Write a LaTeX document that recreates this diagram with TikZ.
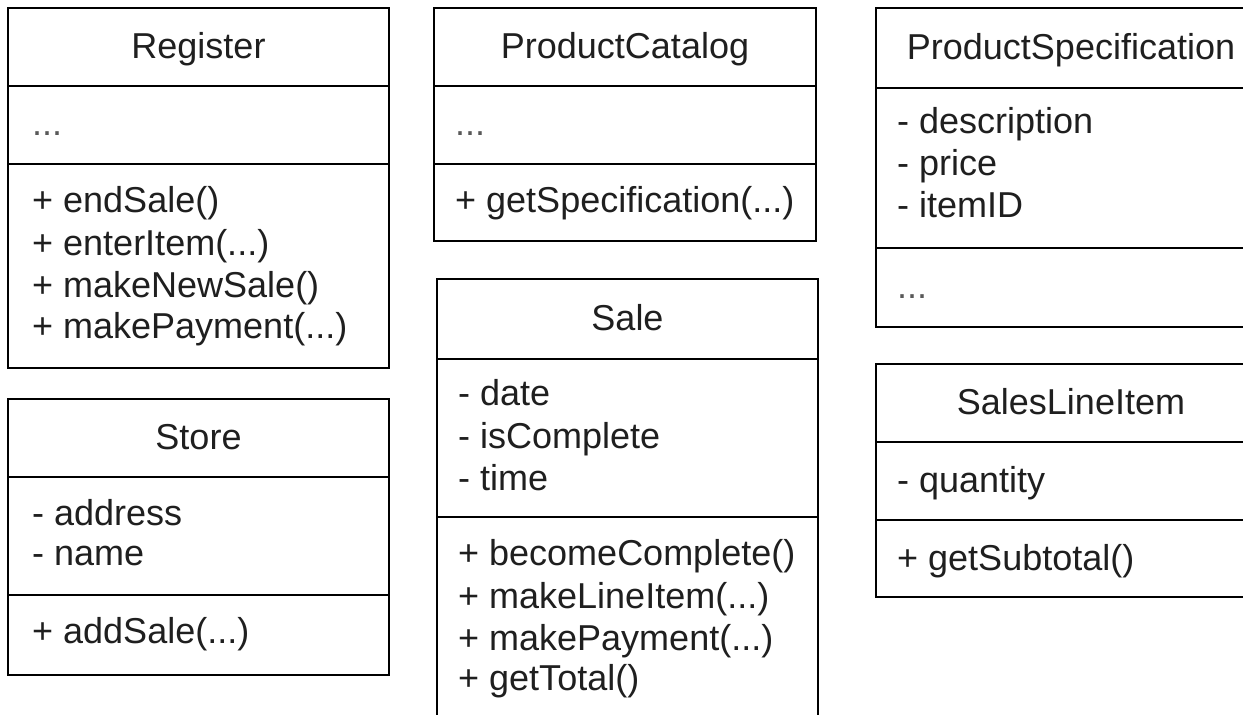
\documentclass[tikz,border=0pt]{standalone}
\usepackage{fontspec}
\setmainfont{Liberation Sans}
\begin{document}
\begin{tikzpicture}[x=1pt,y=-1pt,
  box/.style={draw=black,line width=1.6pt},
  txt/.style={anchor=base west,inner sep=0pt,font=\fontsize{36}{42}\selectfont,text=black!88},
  dots/.style={txt,text=black!65},
  ttl/.style={anchor=base,inner sep=0pt,font=\fontsize{36}{42}\selectfont,text=black!88}]
\useasboundingbox (0,0) rectangle (1243,715);
\fill[white] (0,0) rectangle (1243,715);
\clip (0,0) rectangle (1243,715);

% Register
\draw[box] (8,8) rectangle (389,368);
\draw[box] (8,86) -- (389,86);
\draw[box] (8,164) -- (389,164);
\node[ttl] (regT) at (198.5,58) {Register};
\node[dots] (regA) at (32,135) {...};
\node[txt] (regM1) at (32,212) {+ endSale()};
\node[txt] (regM2) at (32,255) {+ enterItem(...)};
\node[txt] (regM3) at (32,297) {+ makeNewSale()};
\node[txt] (regM4) at (32,338) {+ makePayment(...)};

% Store
\draw[box] (8,399) rectangle (389,675);
\draw[box] (8,477) -- (389,477);
\draw[box] (8,595) -- (389,595);
\node[ttl] (stoT) at (198.5,449) {Store};
\node[txt] (stoA1) at (32,525) {- address};
\node[txt] (stoA2) at (32,565) {- name};
\node[txt] (stoM1) at (32,643) {+ addSale(...)};

% ProductCatalog
\draw[box] (434,8) rectangle (816,241);
\draw[box] (434,86) -- (816,86);
\draw[box] (434,164) -- (816,164);
\node[ttl] (pcT) at (625,58) {ProductCatalog};
\node[dots] (pcA) at (455,135) {...};
\node[txt] (pcM1) at (455,212) {+ getSpecification(...)};

% Sale
\draw[box] (437,279) rectangle (818,760);
\draw[box] (437,359) -- (818,359);
\draw[box] (437,517) -- (818,517);
\node[ttl] (saT) at (627.5,330) {Sale};
\node[txt] (saA1) at (458,405) {- date};
\node[txt] (saA2) at (458,448) {- isComplete};
\node[txt] (saA3) at (458,490) {- time};
\node[txt] (saM1) at (458,565) {+ becomeComplete()};
\node[txt] (saM2) at (458,608) {+ makeLineItem(...)};
\node[txt] (saM3) at (458,650) {+ makePayment(...)};
\node[txt] (saM4) at (458,690) {+ getTotal()};

% ProductSpecification
\draw[box] (876,8) rectangle (1266,327);
\draw[box] (876,88) -- (1266,88);
\draw[box] (876,248) -- (1266,248);
\node[ttl] (psT) at (1071,59) {ProductSpecification};
\node[txt] (psA1) at (897,133) {- description};
\node[txt] (psA2) at (897,175) {- price};
\node[txt] (psA3) at (897,217) {- itemID};
\node[dots] (psM) at (897,298) {...};

% SalesLineItem
\draw[box] (876,364) rectangle (1266,597);
\draw[box] (876,442) -- (1266,442);
\draw[box] (876,520) -- (1266,520);
\node[ttl] (sliT) at (1071,414) {SalesLineItem};
\node[txt] (sliA1) at (897,492) {- quantity};
\node[txt] (sliM1) at (897,570) {+ getSubtotal()};
\end{tikzpicture}
\end{document}
